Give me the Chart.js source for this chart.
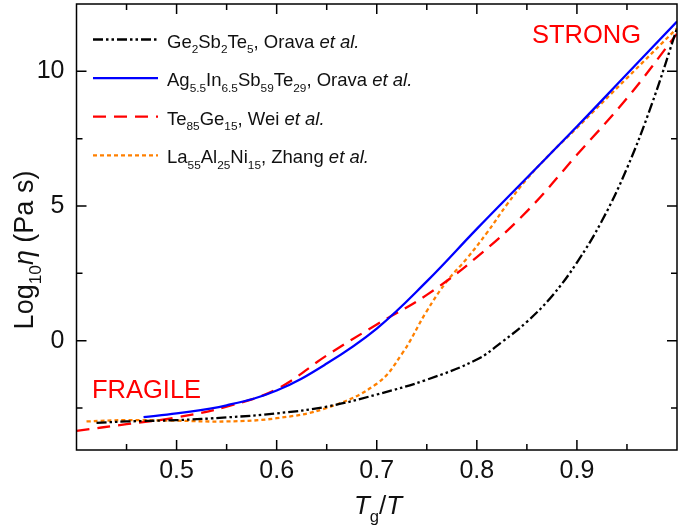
<!doctype html>
<html lang="en">
<head>
    <meta charset="utf-8">
    <title>Fragility plot</title>
    <script src="https://cdn.jsdelivr.net/npm/chart.js@4.4.1/dist/chart.umd.min.js"></script>
    <style>
      html, body { margin: 0; padding: 0; background: #fff; }
      #chartContainer { width: 678px; height: 526px; }
    </style>
    <script type="text/javascript">
      // x = Tg/T, y = log10 viscosity (Pa s)
      const gstX = [0.42, 0.45, 0.5, 0.55, 0.6, 0.65, 0.7, 0.75, 0.8, 0.825, 0.85, 0.875, 0.9, 0.925, 0.95, 0.975, 1.0];
      const gstY = [-3.05, -3.0, -2.95, -2.85, -2.7, -2.45, -2.0, -1.45, -0.7, -0.05, 0.7, 1.65, 2.9, 4.45, 6.4, 8.8, 11.6];

      const aistX = [0.467, 0.5, 0.55, 0.6, 0.65, 0.7, 0.75, 0.8, 0.85, 0.9, 0.95, 1.0];
      const aistY = [-2.84, -2.7, -2.4, -1.85, -0.85, 0.45, 2.2, 4.15, 6.05, 7.95, 9.9, 11.85];

      const tegeX = [0.4, 0.45, 0.5, 0.55, 0.6, 0.65, 0.7, 0.75, 0.8, 0.85, 0.9, 0.95, 1.0];
      const tegeY = [-3.35, -3.1, -2.85, -2.45, -1.8, -0.55, 0.6, 1.7, 3.1, 4.8, 6.9, 9.0, 11.4];

      const lanX = [0.41, 0.45, 0.5, 0.55, 0.6, 0.65, 0.7, 0.725, 0.75, 0.77, 0.79, 0.81, 0.83, 0.85, 0.875, 0.9, 0.95, 1.0];
      const lanY = [-3.0, -2.95, -2.97, -3.0, -2.88, -2.5, -1.6, -0.5, 1.1, 2.2, 3.05, 4.0, 5.05, 6.0, 7.0, 7.9, 9.75, 11.6];

      // {..} = subscript, *..* = italic
      const seriesNames = [
        'Ge{2}Sb{2}Te{5}, Orava *et al.*',
        'Ag{5.5}In{6.5}Sb{59}Te{29}, Orava *et al.*',
        'Te{85}Ge{15}, Wei *et al.*',
        'La{55}Al{25}Ni{15}, Zhang *et al.*'
      ];

      const xMajorTicks = [0.5, 0.6, 0.7, 0.8, 0.9];
      const xMinorTicks = [0.45, 0.55, 0.65, 0.75, 0.85, 0.95];
      const yMajorTicks = [0, 5, 10];
      const yMinorTicks = [-2.5, 2.5, 7.5];

      const FONT = '"Liberation Sans", Arial, sans-serif';

      const toPoints = (xs, ys) => xs.map((x, i) => ({ x: x, y: ys[i] }));

      const richParts = (str) => {
        const parts = [];
        const re = /\{([^}]*)\}|\*([^*]*)\*|([^{*]+)/g;
        let m;
        while ((m = re.exec(str))) {
          if (m[1] !== undefined) parts.push({ t: m[1], sub: true });
          else if (m[2] !== undefined) parts.push({ t: m[2], it: true });
          else parts.push({ t: m[3] });
        }
        return parts;
      };

      const partFont = (p, size) => {
        const s = p.sub ? size * 0.64 : size;
        return { t: p.t, font: (p.it ? 'italic ' : '') + s + 'px ' + FONT, dy: p.sub ? size * 0.3 : 0 };
      };

      const richWidth = (ctx, str, size) => {
        let w = 0;
        richParts(str).forEach(p => {
          const f = partFont(p, size);
          ctx.font = f.font;
          w += ctx.measureText(f.t).width;
        });
        return w;
      };

      const drawRich = (ctx, str, x, y, size, color) => {
        ctx.fillStyle = color;
        ctx.textBaseline = 'alphabetic';
        ctx.textAlign = 'left';
        richParts(str).forEach(p => {
          const f = partFont(p, size);
          ctx.font = f.font;
          ctx.fillText(f.t, x, y + f.dy);
          x += ctx.measureText(f.t).width;
        });
      };

      const dashes = [[10, 3, 2.5, 3, 2.5, 3], [], [13, 8], [4, 3]];

      // ticks pointing inward, box, legend, labels
      const decorations = {
        id: 'decorations',
        afterDraw(chart) {
          const ctx = chart.ctx;
          const a = chart.chartArea;
          const xs = chart.scales.x, ys = chart.scales.y;
          ctx.save();
          ctx.strokeStyle = '#000';
          ctx.lineWidth = 1.5;
          ctx.strokeRect(a.left, a.top, a.right - a.left, a.bottom - a.top);
          const tick = (vals, len) => {
            vals.forEach(v => {
              const px = xs.getPixelForValue(v);
              ctx.beginPath();
              ctx.moveTo(px, a.bottom); ctx.lineTo(px, a.bottom - len);
              ctx.moveTo(px, a.top); ctx.lineTo(px, a.top + len);
              ctx.stroke();
            });
          };
          const tickY = (vals, len) => {
            vals.forEach(v => {
              const py = ys.getPixelForValue(v);
              ctx.beginPath();
              ctx.moveTo(a.left, py); ctx.lineTo(a.left + len, py);
              ctx.moveTo(a.right, py); ctx.lineTo(a.right - len, py);
              ctx.stroke();
            });
          };
          tick(xMajorTicks, 10); tick(xMinorTicks, 6);
          tickY(yMajorTicks, 10); tickY(yMinorTicks, 6);

          // legend
          chart.data.datasets.forEach((ds, i) => {
            const ly = 39.5 + i * 38.6;
            ctx.beginPath();
            ctx.strokeStyle = ds.borderColor;
            ctx.lineWidth = ds.borderWidth;
            ctx.setLineDash(ds.borderDash || []);
            ctx.moveTo(93, ly); ctx.lineTo(158, ly);
            ctx.stroke();
            ctx.setLineDash([]);
            drawRich(ctx, seriesNames[i], 167, ly + 8, 18.5, '#111');
          });

          // annotations
          ctx.fillStyle = '#ff0000';
          ctx.font = '25.5px ' + FONT;
          ctx.textAlign = 'left';
          ctx.textBaseline = 'alphabetic';
          ctx.fillText('STRONG', 532, 43);
          ctx.fillText('FRAGILE', 92, 398);

          // axis titles
          const xt = '*T*{g}/*T*';
          const xw = richWidth(ctx, xt, 26);
          drawRich(ctx, xt, 378 - xw / 2, 514, 26, '#111');

          const yt = 'Log{10}*η* (Pa s)';
          const yw = richWidth(ctx, yt, 27);
          ctx.translate(33, 250);
          ctx.rotate(-Math.PI / 2);
          drawRich(ctx, yt, -yw / 2, 0, 27, '#111');
          ctx.restore();
        }
      };

      const makeChart = () => {
        const ctx = document.getElementById('myChart');
        const series = [
          { x: gstX, y: gstY, color: '#000000' },
          { x: aistX, y: aistY, color: '#0000ff' },
          { x: tegeX, y: tegeY, color: '#ff0000' },
          { x: lanX, y: lanY, color: '#ff8000' }
        ];
        new Chart(ctx, {
          type: 'line',
          data: {
            datasets: series.map((s, i) => ({
              label: seriesNames[i],
              data: toPoints(s.x, s.y),
              borderColor: s.color,
              backgroundColor: s.color,
              borderWidth: 2.3,
              borderDash: dashes[i],
              pointRadius: 0,
              tension: 0.4,
              fill: false
            }))
          },
          options: {
            responsive: false,
            animation: false,
            devicePixelRatio: 1,
            layout: { padding: { top: 4, right: 1, left: 0, bottom: 0 } },
            plugins: { legend: { display: false }, tooltip: { enabled: false } },
            scales: {
              x: {
                type: 'linear',
                min: 0.4,
                max: 1.0,
                border: { display: false },
                grid: { display: false, drawTicks: false },
                afterBuildTicks: (scale) => { scale.ticks = xMajorTicks.map(v => ({ value: v })); },
                afterFit: (scale) => {
                  scale.height = 76;
                  scale.paddingLeft = 0; scale.paddingRight = 0;
                },
                ticks: {
                  padding: 6,
                  color: '#111',
                  font: { family: FONT, size: 25 },
                  callback: (v) => v.toFixed(1)
                }
              },
              y: {
                min: -4.06,
                max: 12.5,
                border: { display: false },
                grid: { display: false, drawTicks: false },
                afterBuildTicks: (scale) => { scale.ticks = yMajorTicks.map(v => ({ value: v })); },
                afterFit: (scale) => {
                  scale.width = 76.5;
                  scale.paddingTop = 0; scale.paddingBottom = 0;
                },
                ticks: {
                  padding: 12,
                  color: '#111',
                  font: { family: FONT, size: 25 },
                  callback: (v) => String(v)
                }
              }
            }
          },
          plugins: [decorations]
        });
      };

      window.onload = makeChart;
    </script>
</head>
<body>
    <div id="chartContainer"><canvas id="myChart" width="678" height="526"></canvas></div>
</body>
</html>
